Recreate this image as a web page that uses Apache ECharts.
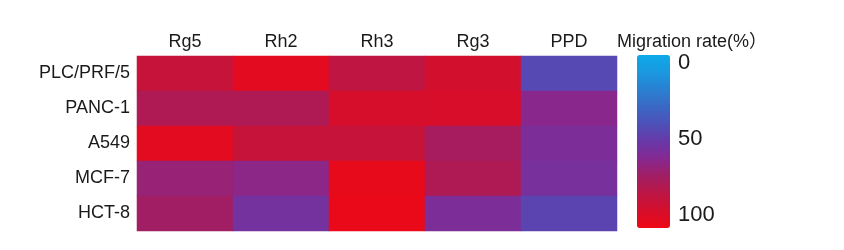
<!DOCTYPE html>
<html>
<head>
<meta charset="utf-8">
<script src="https://cdn.jsdelivr.net/npm/echarts@6/dist/echarts.min.js"></script>
<style>html,body{margin:0;padding:0;background:#fff;}#c{width:844px;height:250px;}</style>
</head>
<body>
<div id="c"></div>
<script>
var compounds = ['Rg5', 'Rh2', 'Rh3', 'Rg3', 'PPD'];
var cellLines = ['PLC/PRF/5', 'PANC-1', 'A549', 'MCF-7', 'HCT-8'];
// migration rate (%) per cell line, ordered as compounds
var rowPLC  = [84, 95, 81, 89, 43];
var rowPANC = [75, 75, 90, 91, 61];
var rowA549 = [95, 84, 84, 72, 57];
var rowMCF7 = [66, 62, 97, 75, 55];
var rowHCT8 = [70, 54, 98, 57, 45];
var colorbarTicks = [0, 50, 100];
var colorbarTitle = 'Migration rate(%）';

var rows = [rowPLC, rowPANC, rowA549, rowMCF7, rowHCT8];
var data = [];
rows.forEach(function (r, ri) {
  r.forEach(function (v, ci) { data.push([ci, ri, v]); });
});

var font = 'Liberation Sans, Arial, Noto Sans CJK SC, sans-serif';
var chart = echarts.init(document.getElementById('c'), null, {renderer: 'canvas'});
chart.setOption({
  backgroundColor: '#ffffff',
  animation: false,
  title: {
    text: colorbarTitle,
    left: 617, top: 33, padding: 0,
    textStyle: {fontFamily: font, fontSize: 18, fontWeight: 'normal', color: '#1a1a1a'}
  },
  grid: [
    {left: 137, top: 56, width: 480, height: 175},
    {left: 669, top: 63, width: 1, height: 152}
  ],
  xAxis: [
    {type: 'category', gridIndex: 0, data: compounds, position: 'top',
     axisLine: {show: false}, axisTick: {show: false}, splitLine: {show: false},
     axisLabel: {margin: 5, fontFamily: font, fontSize: 18, color: '#1a1a1a'}},
    {type: 'value', gridIndex: 1, show: false, min: 0, max: 1}
  ],
  yAxis: [
    {type: 'category', gridIndex: 0, data: cellLines, inverse: true,
     axisLine: {show: false}, axisTick: {show: false}, splitLine: {show: false},
     axisLabel: {margin: 7, fontFamily: font, fontSize: 18, color: '#1a1a1a'}},
    {type: 'value', gridIndex: 1, min: 0, max: 100, interval: 50, inverse: true,
     position: 'right',
     axisLine: {show: false}, axisTick: {show: false}, splitLine: {show: false},
     axisLabel: {margin: 8, fontFamily: font, fontSize: 22, color: '#1a1a1a',
       formatter: function (v) { return colorbarTicks.indexOf(v) >= 0 ? String(v) : ''; }}}
  ],
  visualMap: {
    type: 'continuous', min: 0, max: 100, inverse: true,
    calculable: false, realtime: false, hoverLink: false,
    orient: 'vertical', left: 632, top: 50, padding: 5,
    itemWidth: 33, itemHeight: 173, text: null, showLabel: false,
    seriesIndex: 0,
    inRange: {color: ['#0caae8', '#1a98e0', '#2a80d2', '#3a68c4', '#4e50b8', '#6838a8',
                      '#862890', '#a21e64', '#bc1644', '#d60e2c', '#ee0814']}
  },
  series: [{
    type: 'heatmap', xAxisIndex: 0, yAxisIndex: 0, data: data,
    label: {show: false}, itemStyle: {borderWidth: 0},
    emphasis: {disabled: true}
  }]
});
</script>
</body>
</html>
